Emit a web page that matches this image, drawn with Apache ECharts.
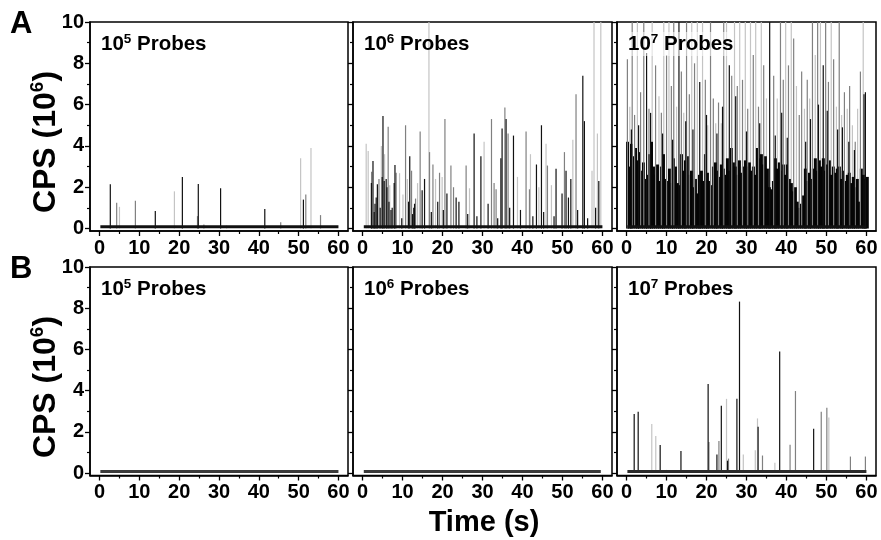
<!DOCTYPE html>
<html>
<head>
<meta charset="utf-8">
<script src="https://cdn.jsdelivr.net/npm/echarts@6/dist/echarts.min.js"></script>
<style>
  html, body { margin: 0; padding: 0; background: #fff; }
  #chart { width: 881px; height: 540px; }
</style>
</head>
<body>
<div id="chart"></div>
<script>
const FONT = '"Liberation Sans", Arial, sans-serif';

// axes
const xLabels = [0, 10, 20, 30, 40, 50, 60];
const xMinorTicks = [5, 15, 25, 35, 45, 55];
const yLabels = [0, 2, 4, 6, 8, 10];
const yMinorTicks = [1, 3, 5, 7, 9];
const probeExp = ['5', '6', '7'];
const rowLetters = ['A', 'B'];

// background level (start, end) for each panel
const a1Base = [[0.2, 0.08], [60, 0.08]];
const a2Base = [[0.3, 0.08], [60, 0.08]];
const a3Base = [[0.2, 0.08], [60, 0.08]];
const b1Base = [[0.2, 0.08], [60, 0.08]];
const b2Base = [[0.3, 0.08], [59.6, 0.08]];
const b3Base = [[0.2, 0.08], [60, 0.08]];

// A: 10^5 probes
const a1Black = [[2.7, 2.14], [14, 0.85], [20.8, 2.5], [24.8, 2.15], [30.4, 1.95], [41.5, 0.95], [51.2, 1.4]];
const a1Gray = [[4.3, 1.25], [9, 1.35], [24.6, 0.6], [26.2, 0.2], [45.5, 0.3], [51.8, 1.65], [55.5, 0.65]];
const a1Light = [[5, 1.05], [18.8, 1.8], [31.9, 0.15], [50.5, 3.4], [53.1, 3.9]];

// A: 10^6 probes
const a2Black = [[2.2, 2.2], [2.6, 3.27], [2.9, 0.8], [3.1, 1.2], [3.4, 1.5], [3.7, 2.14], [4.4, 1.0], [4.9, 2.5],
  [5.1, 5.45], [5.4, 2.3], [5.9, 2.4], [6.1, 2.0], [6.6, 1.3], [7.1, 0.9], [7.4, 1.0], [7.9, 2.2], [8.1, 3.07],
  [9.8, 0.5], [11.5, 1.3], [11.8, 3.5], [12.5, 0.7], [12.8, 1.0], [13.0, 1.2], [14.9, 1.85], [15.5, 2.4],
  [17.2, 0.8], [18.8, 1.3], [20.2, 0.9], [21.1, 1.7], [23.4, 1.5], [24.1, 1.3], [26.3, 0.7], [27.9, 4.6],
  [28.6, 0.6], [29.6, 3.5], [31.4, 1.2], [33.8, 0.5], [34.6, 3.4], [34.9, 4.84], [35.9, 5.3], [36.8, 1.0],
  [37.75, 4.5], [39.5, 0.9], [42.6, 0.6], [43.5, 3.1], [44.75, 5.0], [45.3, 0.8], [47.9, 0.6], [48.4, 2.9],
  [49.9, 1.7], [50.9, 2.8], [51.5, 1.5], [52.1, 2.4], [53.8, 0.9], [55.1, 7.4], [55.5, 5.2], [56.3, 0.5],
  [58.3, 1.0], [59.1, 2.3]];
const a2Gray = [[2.25, 2.75], [4.1, 2.4], [6.4, 4.93], [8.4, 2.7], [10.75, 5.0], [12.25, 2.8], [13.25, 1.45],
  [14.4, 4.7], [16.75, 3.7], [17.6, 3.1], [19.25, 2.7], [20.6, 5.3], [22.1, 3.05], [22.75, 2.0], [25.9, 3.05],
  [32.25, 5.3], [32.9, 2.2], [33.4, 1.9], [35.6, 5.86], [36.4, 4.6], [40.9, 4.7], [41.75, 1.9], [46.25, 3.05],
  [50.5, 3.7], [53.4, 6.5]];
const a2Light = [[0.9, 4.1], [1.4, 3.75], [4.7, 4.0], [5.5, 3.6], [6.8, 2.1], [9.25, 2.68], [10.1, 1.65],
  [11.2, 2.4], [13.75, 2.2], [16.6, 11], [18.25, 2.4], [19.9, 2.5], [26.75, 1.95], [30.4, 4.2], [38.75, 2.5],
  [42.0, 3.6], [44.1, 2.0], [45.9, 4.1], [47.25, 2.1], [52.6, 4.3], [57.4, 2.8], [57.9, 11], [58.75, 4.6], [59.6, 11]];

// A: 10^7 probes, dense envelope sampled every 0.5 s from t = 0
const a3Env = [4.2, 3.0, 4.1, 3.5, 3.9, 3.3, 3.7, 2.8, 3.2, 2.4,
  2.6, 3.6, 4.2, 3.0, 2.6, 3.1, 2.3, 3.0, 3.6, 2.4,
  2.3, 2.9, 2.2, 3.4, 3.0, 2.2, 2.1, 3.6, 2.8, 3.3,
  3.5, 2.6, 2.8, 2.0, 2.4, 1.7, 2.6, 2.8, 2.3, 3.6,
  2.7, 2.3, 2.1, 3.0, 3.2, 2.8, 2.5, 3.1, 2.9, 2.6,
  3.4, 2.8, 3.9, 3.2, 3.0, 2.6, 3.3, 2.7, 3.0, 3.3,
  3.0, 3.2, 2.8, 3.0, 2.6, 3.9, 3.4, 3.6, 3.1, 3.5,
  2.9, 2.0, 1.9, 2.3, 3.4, 2.9, 3.2, 2.8, 3.1, 2.6,
  3.1, 2.4, 2.2, 1.8, 2.0, 1.3, 1.0, 1.2, 1.6, 2.9,
  2.3, 2.7, 2.4, 2.9, 3.4, 2.8, 3.3, 3.0, 3.4, 2.8,
  3.1, 3.3, 2.6, 3.0, 2.7, 2.9, 3.0, 2.4, 2.8, 2.3,
  2.6, 2.7, 2.2, 2.5, 2.0, 2.4, 1.3, 2.9, 2.6, 2.4,
  2.5];
const a3Black = [[1.2, 4.8], [3.0, 5.0], [5.0, 8.5], [6.0, 5.6], [9.0, 4.6], [11.5, 4.3], [13.1, 11], [14.8, 5.2],
  [16.6, 4.8], [18.3, 7.1], [20.0, 5.5], [22.6, 4.6], [24.0, 5.9], [25.7, 7.9], [27.3, 6.4], [30.0, 4.7],
  [33.3, 5.1], [35.8, 11], [37.2, 4.5], [38.8, 5.6], [40.2, 4.4], [44.8, 4.2], [46.0, 5.3], [48.0, 6.0],
  [49.2, 7.9], [50.2, 5.7], [52.8, 4.8], [54.0, 4.9], [55.6, 4.2], [57.0, 3.8], [59.4, 6.5], [59.75, 6.6]];
const a3Gray = [[0.2, 8.2], [1.4, 11], [2.0, 5.5], [3.5, 6.6], [4.3, 11], [5.6, 5.8], [7.25, 7.9], [8.7, 5.6],
  [10.0, 8.4], [11.2, 6.9], [11.8, 11], [13.7, 7.6], [15.0, 11], [15.7, 6.5], [17.0, 8.0], [19.7, 7.2],
  [21.0, 11], [21.7, 6.3], [23.0, 6.1], [24.3, 11], [26.3, 7.4], [27.7, 6.9], [29.0, 7.2], [30.3, 5.8],
  [31.7, 8.4], [33.0, 5.9], [34.3, 7.9], [36.8, 7.4], [38.5, 11], [39.2, 7.2], [40.5, 7.9], [41.8, 9.2],
  [43.2, 5.5], [43.8, 7.6], [45.2, 7.2], [46.5, 11], [47.8, 11], [49.8, 11], [50.5, 7.1], [51.8, 8.2],
  [53.2, 11], [54.5, 6.6], [55.8, 6.9], [57.2, 4.2], [58.5, 7.6]];
const a3Light = [[0.8, 5.9], [2.7, 11], [6.4, 11], [8.1, 6.4], [9.3, 11], [10.6, 11], [12.5, 5.9], [14.3, 5.6],
  [16.3, 11], [17.7, 11], [19.0, 11], [20.3, 5.0], [22.3, 5.1], [23.7, 5.1], [25.0, 11], [27.0, 11], [28.3, 11],
  [29.7, 11], [31.0, 11], [32.3, 11], [33.7, 11], [35.0, 6.3], [37.7, 6.3], [39.8, 11], [41.2, 11], [42.5, 6.9],
  [44.5, 5.8], [45.8, 6.3], [47.2, 8.4], [48.5, 11], [51.2, 11], [52.5, 5.9], [53.8, 5.5], [55.2, 5.8],
  [56.5, 5.0], [57.8, 5.8], [59.2, 11]];

// B: 10^5 and 10^6 probes only show the background level
const b1Black = [];
const b2Black = [];

// B: 10^7 probes
const b3Black = [[1.9, 2.86], [2.9, 2.98], [8.4, 1.36], [13.6, 1.07], [20.4, 4.32], [22.6, 0.9], [23.7, 3.27],
  [25.25, 0.6], [27.6, 3.6], [28.25, 8.32], [32.9, 2.25], [38.3, 5.9], [46.8, 2.15]];
const b3Gray = [[10.0, 0.15], [11.1, 0.15], [20.6, 1.5], [23.1, 1.55], [25.5, 0.7], [34.0, 0.85], [40.9, 1.37],
  [42.25, 3.98], [48.7, 2.98], [50.1, 3.17], [56.0, 0.8], [59.75, 0.8]];
const b3Light = [[6.3, 2.38], [7.3, 1.8], [25.0, 3.6], [29.2, 0.9], [32.2, 1.1], [32.75, 2.65], [37.1, 0.5], [50.6, 2.7]];

const X_MIN = -2.4, X_MAX = 62.4, Y_MIN = -0.12, Y_MAX = 10;
const cols = [{left: 90, width: 258}, {left: 353, width: 259}, {left: 617, width: 259}];
const rows = [{top: 22, height: 209}, {top: 267, height: 208.5}];

const panels = [
    {row: 0, col: 0, base: a1Base, env: null, light: a1Light, gray: a1Gray, black: a1Black, baseColor: '#111'},
    {row: 0, col: 1, base: a2Base, env: null, light: a2Light, gray: a2Gray, black: a2Black, baseColor: '#111'},
    {row: 0, col: 2, base: a3Base, env: a3Env, light: a3Light, gray: a3Gray, black: a3Black, baseColor: '#111'},
    {row: 1, col: 0, base: b1Base, env: null, light: [], gray: [], black: b1Black, baseColor: '#3a3a3a'},
    {row: 1, col: 1, base: b2Base, env: null, light: [], gray: [], black: b2Black, baseColor: '#3a3a3a'},
    {row: 1, col: 2, base: b3Base, env: null, light: b3Light, gray: b3Gray, black: b3Black, baseColor: '#2a2a2a'}
];

const labelStyle = {fontSize: 20, fontWeight: 'bold', color: '#000', fontFamily: FONT};
const grid = [], xAxis = [], yAxis = [], series = [], graphic = [];

function spikes(i, data, color, width) {
    return {
        type: 'bar', xAxisIndex: 2 * i, yAxisIndex: 2 * i, data: data,
        barWidth: width, barGap: '-100%', itemStyle: {color: color},
        silent: true, animation: false
    };
}

panels.forEach((p, i) => {
    const c = cols[p.col], r = rows[p.row];
    grid.push({left: c.left, top: r.top, width: c.width, height: r.height,
        show: true, borderColor: '#000', borderWidth: 1.5, backgroundColor: 'transparent'});

    // major / minor x ticks
    xAxis.push({
        gridIndex: i, type: 'value', min: X_MIN, max: X_MAX, position: 'bottom',
        axisLine: {show: true, onZero: false, lineStyle: {color: '#000', width: 1.5}},
        axisTick: {show: true, customValues: xLabels, length: 5, lineStyle: {color: '#000', width: 1.3}},
        axisLabel: Object.assign({customValues: xLabels, margin: 7}, labelStyle),
        splitLine: {show: false}
    });
    xAxis.push({
        gridIndex: i, type: 'value', min: X_MIN, max: X_MAX, position: 'bottom',
        axisLine: {show: false, onZero: false},
        axisTick: {show: true, customValues: xMinorTicks, length: 3, lineStyle: {color: '#000', width: 1.2}},
        axisLabel: {show: false}, splitLine: {show: false}
    });
    // major / minor y ticks
    yAxis.push({
        gridIndex: i, type: 'value', min: Y_MIN, max: Y_MAX, position: 'left',
        axisLine: {show: true, onZero: false, lineStyle: {color: '#000', width: 1.5}},
        axisTick: {show: true, customValues: yLabels, length: 5, lineStyle: {color: '#000', width: 1.3}},
        axisLabel: Object.assign({show: p.col === 0, customValues: yLabels, margin: 6}, labelStyle),
        splitLine: {show: false}
    });
    yAxis.push({
        gridIndex: i, type: 'value', min: Y_MIN, max: Y_MAX, position: 'left',
        axisLine: {show: false, onZero: false},
        axisTick: {show: true, customValues: yMinorTicks, length: 3, lineStyle: {color: '#000', width: 1.2}},
        axisLabel: {show: false}, splitLine: {show: false}
    });

    // light spikes sit behind the dense black envelope, darker ones cross it
    series.push(spikes(i, p.light, '#c4c4c4', 1.2));
    if (p.env) {
        series.push(spikes(i, p.env.map((v, k) => [k * 0.5, v]), '#050505', 3));
    }
    series.push(spikes(i, p.gray, '#808080', 1.2));
    series.push(spikes(i, p.black, '#111', 1.2));
    series.push({
        type: 'line', xAxisIndex: 2 * i, yAxisIndex: 2 * i, data: p.base, symbol: 'none',
        lineStyle: {color: p.baseColor, width: 3}, z: 3, silent: true, animation: false
    });

    // panel title, e.g. 10^5 Probes
    graphic.push({
        type: 'text', z: 100, left: c.left + 11, top: r.top + 10,
        style: {
            text: '{n|10}{s|' + probeExp[p.col] + '}{n| Probes}',
            backgroundColor: p.col === 2 && p.row === 0 ? 'rgba(255,255,255,0.55)' : 'transparent',
            rich: {
                n: {fontSize: 20.5, fontWeight: 'bold', fontFamily: FONT, fill: '#000', lineHeight: 24},
                s: {fontSize: 13.5, fontWeight: 'bold', fontFamily: FONT, fill: '#000', lineHeight: 24, verticalAlign: 'top'}
            }
        }
    });
});

rows.forEach((r, k) => {
    graphic.push({
        type: 'text', z: 100, left: 10, top: r.top - 13,
        style: {text: rowLetters[k], font: 'bold 31px ' + FONT, fill: '#000'}
    });
    graphic.push({
        type: 'text', z: 100, x: 46, y: r.top + 120, rotation: Math.PI / 2,
        style: {
            text: '{n|CPS (10}{s|6}{n|)}', align: 'center', verticalAlign: 'middle',
            rich: {
                n: {fontSize: 32, fontWeight: 'bold', fontFamily: FONT, fill: '#000', lineHeight: 36},
                s: {fontSize: 19, fontWeight: 'bold', fontFamily: FONT, fill: '#000', lineHeight: 36, verticalAlign: 'top'}
            }
        }
    });
});

graphic.push({
    type: 'text', z: 100, x: 484, y: 523,
    style: {text: 'Time (s)', font: 'bold 29px ' + FONT, fill: '#000', align: 'center', verticalAlign: 'middle'}
});

const chart = echarts.init(document.getElementById('chart'), null, {renderer: 'canvas'});
chart.setOption({
    animation: false,
    backgroundColor: '#fff',
    grid: grid,
    xAxis: xAxis,
    yAxis: yAxis,
    series: series,
    graphic: graphic
});
</script>
</body>
</html>
